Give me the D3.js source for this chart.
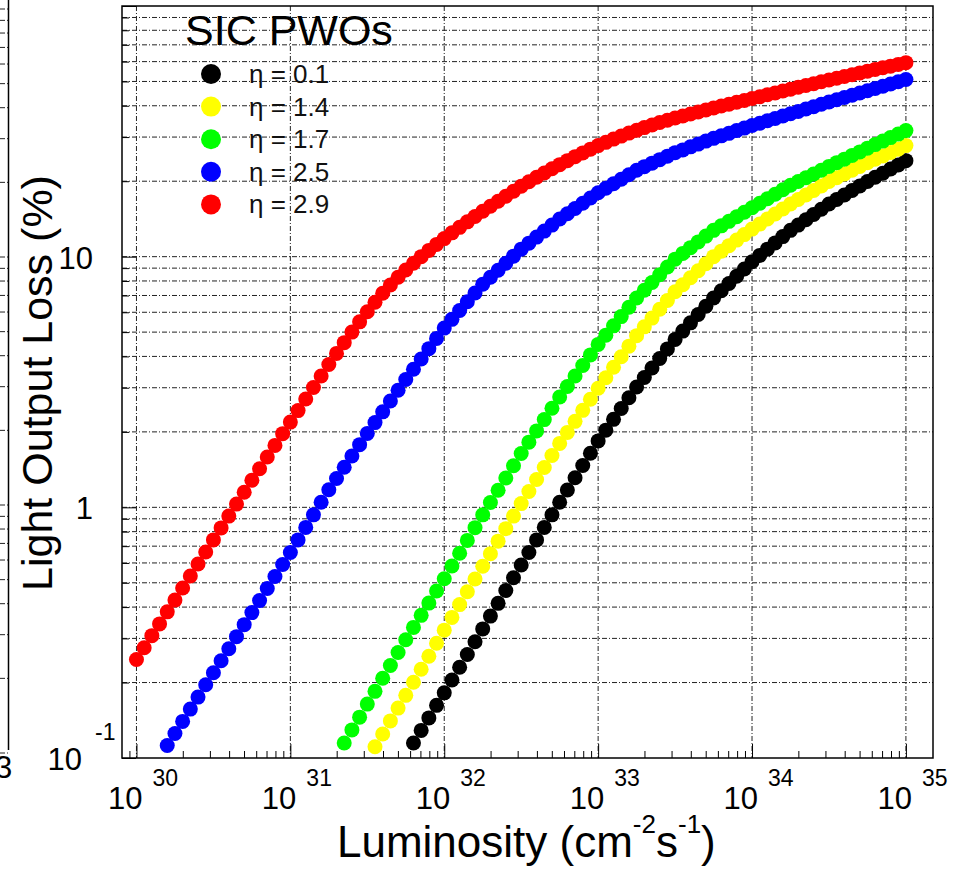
<!DOCTYPE html>
<html>
<head>
<meta charset="utf-8">
<script src="https://d3js.org/d3.v7.min.js"></script>
<style>
  body { margin: 0; background: #fff; }
  svg { display: block; font-family: "Liberation Sans", Arial, sans-serif; }
</style>
</head>
<body>
<div id="myChart"></div>
<script>
// luminosity, log10 of cm-2 s-1
var lumExp = [
  30.00, 30.05, 30.10, 30.15, 30.20, 30.25, 30.30, 30.35, 30.40, 30.45,
  30.50, 30.55, 30.60, 30.65, 30.70, 30.75, 30.80, 30.85, 30.90, 30.95,
  31.00, 31.05, 31.10, 31.15, 31.20, 31.25, 31.30, 31.35, 31.40, 31.45,
  31.50, 31.55, 31.60, 31.65, 31.70, 31.75, 31.80, 31.85, 31.90, 31.95,
  32.00, 32.05, 32.10, 32.15, 32.20, 32.25, 32.30, 32.35, 32.40, 32.45,
  32.50, 32.55, 32.60, 32.65, 32.70, 32.75, 32.80, 32.85, 32.90, 32.95,
  33.00, 33.05, 33.10, 33.15, 33.20, 33.25, 33.30, 33.35, 33.40, 33.45,
  33.50, 33.55, 33.60, 33.65, 33.70, 33.75, 33.80, 33.85, 33.90, 33.95,
  34.00, 34.05, 34.10, 34.15, 34.20, 34.25, 34.30, 34.35, 34.40, 34.45,
  34.50, 34.55, 34.60, 34.65, 34.70, 34.75, 34.80, 34.85, 34.90, 34.95,
  35.00
];

// light output loss, log10 of %, the last value of each list sits at 1e35
var lossEta01 = [
  -0.940, -0.890, -0.840, -0.790,
  -0.740, -0.689, -0.638, -0.587, -0.536,
  -0.485, -0.434, -0.383, -0.332, -0.281,
  -0.230, -0.180, -0.130, -0.080, -0.030,
  0.020, 0.069, 0.118, 0.167, 0.216,
  0.265, 0.308, 0.351, 0.394, 0.437,
  0.480, 0.518, 0.556, 0.594, 0.632,
  0.670, 0.703, 0.736, 0.769, 0.802,
  0.835, 0.864, 0.893, 0.922, 0.951,
  0.980, 1.005, 1.030, 1.055, 1.080,
  1.105, 1.126, 1.147, 1.168, 1.189,
  1.210, 1.228, 1.246, 1.264, 1.282,
  1.300, 1.317, 1.333, 1.350, 1.366,
  1.383
];
var lossEta14 = [
  -0.955, -0.904, -0.852, -0.801,
  -0.750, -0.698, -0.646, -0.594, -0.542,
  -0.490, -0.439, -0.388, -0.337, -0.286,
  -0.235, -0.185, -0.135, -0.085, -0.035,
  0.015, 0.063, 0.111, 0.159, 0.207,
  0.255, 0.299, 0.343, 0.387, 0.431,
  0.475, 0.517, 0.559, 0.601, 0.643,
  0.685, 0.720, 0.755, 0.790, 0.825,
  0.860, 0.888, 0.916, 0.944, 0.972,
  1.000, 1.022, 1.044, 1.066, 1.088,
  1.110, 1.130, 1.150, 1.170, 1.190,
  1.210, 1.228, 1.246, 1.264, 1.282,
  1.300, 1.315, 1.330, 1.345, 1.360,
  1.375, 1.389, 1.402, 1.416, 1.429,
  1.443
];
var lossEta17 = [
  -0.940, -0.888, -0.837,
  -0.785, -0.734, -0.682, -0.631, -0.579,
  -0.528, -0.479, -0.431, -0.382, -0.334,
  -0.285, -0.234, -0.183, -0.132, -0.081,
  -0.030, 0.019, 0.068, 0.117, 0.166,
  0.215, 0.260, 0.305, 0.350, 0.395,
  0.440, 0.482, 0.524, 0.566, 0.608,
  0.650, 0.687, 0.724, 0.761, 0.798,
  0.835, 0.866, 0.897, 0.928, 0.959,
  0.990, 1.013, 1.036, 1.059, 1.082,
  1.105, 1.123, 1.141, 1.159, 1.177,
  1.195, 1.213, 1.231, 1.249, 1.267,
  1.285, 1.300, 1.315, 1.330, 1.345,
  1.360, 1.375, 1.389, 1.404, 1.418,
  1.433, 1.447, 1.461, 1.475, 1.489,
  1.503
];
var lossEta25 = [
  -0.950,
  -0.902, -0.854, -0.805, -0.757, -0.708,
  -0.660, -0.612, -0.564, -0.516, -0.468,
  -0.420, -0.372, -0.324, -0.276, -0.228,
  -0.180, -0.130, -0.080, -0.030, 0.020,
  0.070, 0.115, 0.160, 0.205, 0.250,
  0.295, 0.338, 0.381, 0.424, 0.467,
  0.510, 0.551, 0.592, 0.633, 0.674,
  0.715, 0.750, 0.785, 0.820, 0.855,
  0.890, 0.918, 0.946, 0.974, 1.002,
  1.030, 1.054, 1.078, 1.102, 1.126,
  1.150, 1.171, 1.192, 1.213, 1.234,
  1.255, 1.273, 1.291, 1.309, 1.327,
  1.345, 1.359, 1.373, 1.387, 1.401,
  1.415, 1.426, 1.438, 1.449, 1.461,
  1.472, 1.482, 1.492, 1.503, 1.513,
  1.523, 1.532, 1.542, 1.551, 1.561,
  1.570, 1.579, 1.589, 1.598, 1.608,
  1.617, 1.626, 1.635, 1.644, 1.653,
  1.662, 1.671, 1.680, 1.689, 1.698,
  1.707
];
var lossEta29 = [
  -0.607, -0.560, -0.512, -0.465, -0.417,
  -0.370, -0.322, -0.274, -0.226, -0.178,
  -0.130, -0.082, -0.035, 0.013, 0.060,
  0.108, 0.154, 0.201, 0.247, 0.294,
  0.340, 0.386, 0.432, 0.478, 0.524,
  0.570, 0.614, 0.657, 0.699, 0.740,
  0.780, 0.818, 0.854, 0.887, 0.918,
  0.947, 0.974, 1.000, 1.025, 1.049,
  1.072, 1.095, 1.117, 1.139, 1.160,
  1.181, 1.201, 1.221, 1.241, 1.261,
  1.281, 1.299, 1.317, 1.334, 1.351,
  1.367, 1.383, 1.399, 1.414, 1.429,
  1.443, 1.456, 1.469, 1.481, 1.493,
  1.504, 1.515, 1.525, 1.535, 1.544,
  1.553, 1.561, 1.569, 1.577, 1.585,
  1.593, 1.601, 1.608, 1.616, 1.623,
  1.631, 1.638, 1.646, 1.653, 1.661,
  1.668, 1.676, 1.683, 1.690, 1.698,
  1.705, 1.712, 1.719, 1.726, 1.733,
  1.740, 1.747, 1.754, 1.760, 1.767,
  1.774
];

var etaNames = ["η = 0.1", "η = 1.4", "η = 1.7", "η = 2.5", "η = 2.9"];
var xTickExp = [30, 31, 32, 33, 34, 35];
var yTickValues = [0.1, 1, 10];
var yTickBase = ["10", "1", "10"];
var yTickSup = ["-1", "", ""];

var svg = d3.select("#myChart")
    .append("svg")
    .attr("width", 955).attr("height", 869);

var x = d3.scaleLog()
    .domain([Math.pow(10, 29.906), Math.pow(10, 35.176)])
    .range([122, 933]);
var y = d3.scaleLog()
    .domain([0.1, 100])
    .range([758, 6]);

function isDecade(v) {
  var l = Math.log10(v);
  return Math.abs(l - Math.round(l)) < 1e-6;
}

//----- piece of the neighbour pad on the far left
var yN = d3.scaleLog().domain([0.1, 100]).range([753, 9]);
svg.append("g").selectAll("line")
    .data(yN.ticks())
    .enter().append("line")
    .attr("x1", 0).attr("x2", 8)
    .attr("y1", d => yN(d)).attr("y2", d => yN(d))
    .attr("stroke", "#222").attr("stroke-dasharray", "5,2,1,2");
svg.append("line")
    .attr("x1", 8.5).attr("x2", 8.5)
    .attr("y1", 0).attr("y2", 750)
    .attr("stroke", "#000").attr("stroke-width", 1.5);
svg.append("text")
    .attr("x", -5).attr("y", 778)
    .attr("font-size", 31)
    .text("3");

//----- grid
var yGrid = y.ticks().filter(d => d > 0.1 && d < 100);
svg.append("g").selectAll("line")
    .data(yGrid)
    .enter().append("line")
    .attr("x1", 122).attr("x2", 933)
    .attr("y1", d => y(d)).attr("y2", d => y(d))
    .attr("stroke", "#222").attr("stroke-width", 1)
    .attr("stroke-dasharray", "5,2,1,2");

var xMajor = xTickExp.map(e => Math.pow(10, e));
svg.append("g").selectAll("line")
    .data(xMajor)
    .enter().append("line")
    .attr("x1", d => x(d)).attr("x2", d => x(d))
    .attr("y1", 6).attr("y2", 758)
    .attr("stroke", "#222").attr("stroke-width", 1)
    .attr("stroke-dasharray", "5,2,1,2");

//----- axes, ticks point inside
var xMinor = x.ticks().filter(d => !isDecade(d));
var yMajor = y.ticks().filter(d => isDecade(d));
var yMinor = y.ticks().filter(d => !isDecade(d));

function noDomain(g) { g.select(".domain").remove(); g.selectAll("line").attr("stroke", "#000"); }

svg.append("g").attr("transform", "translate(0,758)")
    .call(d3.axisBottom(x).tickValues(xMajor).tickSize(-14).tickFormat(""))
    .call(noDomain);
svg.append("g").attr("transform", "translate(0,758)")
    .call(d3.axisBottom(x).tickValues(xMinor).tickSize(-7).tickFormat(""))
    .call(noDomain);
svg.append("g").attr("transform", "translate(122,0)")
    .call(d3.axisLeft(y).tickValues(yMajor).tickSize(-14).tickFormat(""))
    .call(noDomain);
svg.append("g").attr("transform", "translate(122,0)")
    .call(d3.axisLeft(y).tickValues(yMinor).tickSize(-7).tickFormat(""))
    .call(noDomain);

// frame
svg.append("rect")
    .attr("x", 122).attr("y", 6)
    .attr("width", 811).attr("height", 752)
    .attr("fill", "none")
    .attr("stroke", "#000").attr("stroke-width", 1.5);

//----- tick labels
xTickExp.forEach(function(e) {
  var px = x(Math.pow(10, e));
  svg.append("text")
      .attr("x", px + 6).attr("y", 809)
      .attr("text-anchor", "end")
      .attr("font-size", 31)
      .text("10");
  svg.append("text")
      .attr("x", px + 16).attr("y", 786)
      .attr("font-size", 23)
      .text(e);
});

yTickValues.forEach(function(v, i) {
  var py = y(v);
  svg.append("text")
      .attr("x", yTickSup[i] ? 82 : 93).attr("y", py + 12)
      .attr("text-anchor", "end")
      .attr("font-size", 31)
      .text(yTickBase[i]);
  if (yTickSup[i]) {
    svg.append("text")
        .attr("x", 95).attr("y", py - 18)
        .attr("font-size", 23)
        .text(yTickSup[i]);
  }
});

//----- axis titles
var xt = svg.append("text")
    .attr("x", 337).attr("y", 857)
    .attr("font-size", 44);
xt.append("tspan").text("Luminosity (cm");
xt.append("tspan").attr("font-size", 26).attr("dy", -24).text("-2");
xt.append("tspan").attr("dy", 24).text("s");
xt.append("tspan").attr("font-size", 26).attr("dy", -24).text("-1");
xt.append("tspan").attr("dy", 24).text(")");

svg.append("text")
    .attr("transform", "translate(52,383) rotate(-90)")
    .attr("text-anchor", "middle")
    .attr("font-size", 43)
    .text("Light Output Loss (%)");

//----- data points
var series = [
  { name: etaNames[0], color: "#000000", values: lossEta01 },
  { name: etaNames[1], color: "#ffff00", values: lossEta14 },
  { name: etaNames[2], color: "#00ff00", values: lossEta17 },
  { name: etaNames[3], color: "#0000ff", values: lossEta25 },
  { name: etaNames[4], color: "#ff0000", values: lossEta29 }
];

series.forEach(function(s) {
  var off = lumExp.length - s.values.length;
  var pts = s.values.map(function(v, i) {
    return [Math.pow(10, lumExp[off + i]), Math.pow(10, v)];
  });
  svg.append("g").selectAll("circle")
      .data(pts)
      .enter().append("circle")
      .attr("cx", d => x(d[0])).attr("cy", d => y(d[1]))
      .attr("r", 7.5)
      .attr("fill", s.color);
});

//----- title and legend
svg.append("text")
    .attr("x", 185).attr("y", 45)
    .attr("font-size", 43)
    .text("SIC PWOs");

var legend = svg.append("g").selectAll("g")
    .data(series)
    .enter().append("g")
    .attr("transform", (d, i) => "translate(0," + (74 + i * 32.6) + ")");
legend.append("circle")
    .attr("cx", 211).attr("cy", 0)
    .attr("r", 10)
    .attr("fill", d => d.color);
legend.append("text")
    .attr("x", 249).attr("y", 9)
    .attr("font-size", 26)
    .attr("fill", "#111")
    .text(d => d.name);
</script>
</body>
</html>
